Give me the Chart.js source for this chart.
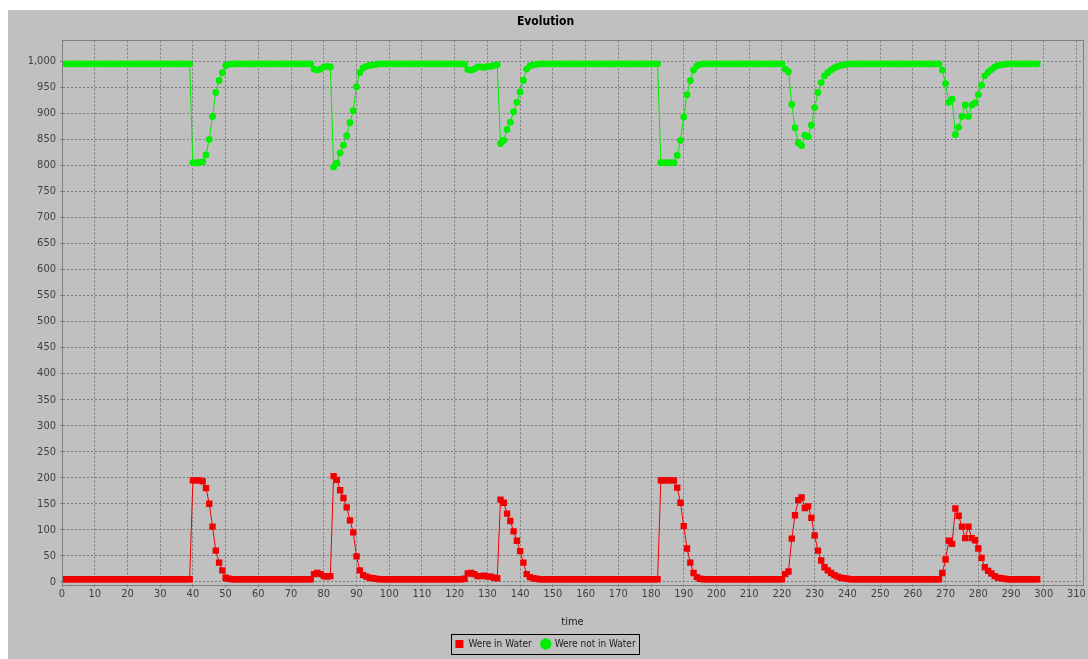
<!DOCTYPE html>
<html>
<head>
<meta charset="utf-8">
<script src="https://cdn.jsdelivr.net/npm/chart.js@4.4.1/dist/chart.umd.min.js"></script>
<style>
  html, body { margin: 0; padding: 0; background: #ffffff; }
  #panel { position: absolute; left: 8px; top: 10px; width: 1080px; height: 649px; background: #c0c0c0; }
</style>
</head>
<body>
<div id="panel"><canvas id="evolution" width="1080" height="649"></canvas></div>
<script>
"use strict";

const TITLE = "Evolution";
const X_TITLE = "time";
const SERIES_NAMES = ["Were in Water", "Were not in Water"];

// one value per time step, t = 0 .. 298
const inWater = [
  5, 5, 5, 5, 5, 5, 5, 5, 5, 5, 5, 5, 5, 5, 5, 5, 5, 5, 5, 5,
  5, 5, 5, 5, 5, 5, 5, 5, 5, 5, 5, 5, 5, 5, 5, 5, 5, 5, 5, 5,
  195, 195, 195, 193, 180, 150, 106, 60, 37, 22, 8, 6, 5, 5, 5, 5, 5, 5, 5, 5,
  5, 5, 5, 5, 5, 5, 5, 5, 5, 5, 5, 5, 5, 5, 5, 5, 5, 15, 17, 15,
  11, 10, 11, 203, 196, 176, 161, 143, 118, 95, 49, 22, 13, 10, 8, 7, 6, 5, 5, 5,
  5, 5, 5, 5, 5, 5, 5, 5, 5, 5, 5, 5, 5, 5, 5, 5, 5, 5, 5, 5,
  5, 5, 5, 6, 16, 17, 15, 11, 11, 12, 10, 10, 8, 7, 158, 152, 131, 117, 97, 79,
  59, 37, 15, 9, 7, 6, 5, 5, 5, 5, 5, 5, 5, 5, 5, 5, 5, 5, 5, 5,
  5, 5, 5, 5, 5, 5, 5, 5, 5, 5, 5, 5, 5, 5, 5, 5, 5, 5, 5, 5,
  5, 5, 5, 195, 195, 195, 195, 195, 181, 152, 107, 64, 37, 17, 9, 6, 5, 5, 5, 5,
  5, 5, 5, 5, 5, 5, 5, 5, 5, 5, 5, 5, 5, 5, 5, 5, 5, 5, 5, 5,
  5, 15, 20, 83, 128, 157, 162, 142, 145, 123, 89, 60, 41, 28, 22, 17, 13, 10, 8, 7,
  6, 5, 5, 5, 5, 5, 5, 5, 5, 5, 5, 5, 5, 5, 5, 5, 5, 5, 5, 5,
  5, 5, 5, 5, 5, 5, 5, 5, 5, 17, 43, 79, 73, 141, 127, 106, 84, 106, 84, 80,
  64, 46, 28, 21, 16, 11, 8, 7, 6, 5, 5, 5, 5, 5, 5, 5, 5, 5, 5,
];

const notInWater = [
  995, 995, 995, 995, 995, 995, 995, 995, 995, 995, 995, 995, 995, 995, 995, 995, 995, 995, 995, 995,
  995, 995, 995, 995, 995, 995, 995, 995, 995, 995, 995, 995, 995, 995, 995, 995, 995, 995, 995, 995,
  805, 805, 805, 807, 820, 850, 894, 940, 963, 978, 992, 994, 995, 995, 995, 995, 995, 995, 995, 995,
  995, 995, 995, 995, 995, 995, 995, 995, 995, 995, 995, 995, 995, 995, 995, 995, 995, 985, 983, 985,
  989, 990, 989, 797, 804, 824, 839, 857, 882, 905, 951, 978, 987, 990, 992, 993, 994, 995, 995, 995,
  995, 995, 995, 995, 995, 995, 995, 995, 995, 995, 995, 995, 995, 995, 995, 995, 995, 995, 995, 995,
  995, 995, 995, 994, 984, 983, 985, 989, 989, 988, 990, 990, 992, 993, 842, 848, 869, 883, 903, 921,
  941, 963, 985, 991, 993, 994, 995, 995, 995, 995, 995, 995, 995, 995, 995, 995, 995, 995, 995, 995,
  995, 995, 995, 995, 995, 995, 995, 995, 995, 995, 995, 995, 995, 995, 995, 995, 995, 995, 995, 995,
  995, 995, 995, 805, 805, 805, 805, 805, 819, 848, 893, 936, 963, 983, 991, 994, 995, 995, 995, 995,
  995, 995, 995, 995, 995, 995, 995, 995, 995, 995, 995, 995, 995, 995, 995, 995, 995, 995, 995, 995,
  995, 985, 980, 917, 872, 843, 838, 858, 855, 877, 911, 940, 959, 972, 978, 983, 987, 990, 992, 993,
  994, 995, 995, 995, 995, 995, 995, 995, 995, 995, 995, 995, 995, 995, 995, 995, 995, 995, 995, 995,
  995, 995, 995, 995, 995, 995, 995, 995, 995, 983, 957, 921, 927, 859, 873, 894, 916, 894, 916, 920,
  936, 954, 972, 979, 984, 989, 992, 993, 994, 995, 995, 995, 995, 995, 995, 995, 995, 995, 995,
];

const xTicks = [0, 10, 20, 30, 40, 50, 60, 70, 80, 90, 100, 110, 120, 130, 140, 150, 160,
  170, 180, 190, 200, 210, 220, 230, 240, 250, 260, 270, 280, 290, 300, 310];
const yTicks = [0, 50, 100, 150, 200, 250, 300, 350, 400, 450, 500, 550, 600, 650, 700,
  750, 800, 850, 900, 950, 1000];

const FONT = "'DejaVu Sans Condensed', 'DejaVu Sans', sans-serif";
const GRID = "#7c7c7c";

function toPoints(values) {
  return values.map((v, t) => ({ x: t, y: v }));
}

// JFreeChart style plot outline plus a framed legend
const frame = {
  id: "frame",
  afterDraw(chart) {
    const { ctx, chartArea: a, legend } = chart;
    ctx.save();
    ctx.strokeStyle = "#808080";
    ctx.lineWidth = 1;
    ctx.strokeRect(Math.round(a.left) + 0.5, Math.round(a.top) + 0.5,
      Math.round(a.right - a.left), Math.round(a.bottom - a.top));
    const boxes = legend.legendHitBoxes;
    if (boxes && boxes.length) {
      const left = Math.min(...boxes.map((b) => b.left)) - 4;
      const right = Math.max(...boxes.map((b) => b.left + b.width)) + 4;
      const top = Math.min(...boxes.map((b) => b.top)) - 5;
      const bottom = Math.max(...boxes.map((b) => b.top + b.height)) + 5;
      ctx.strokeStyle = "#000000";
      ctx.strokeRect(Math.round(left) + 0.5, Math.round(top) + 0.5,
        Math.round(right - left), Math.round(bottom - top));
    }
    ctx.restore();
  },
};

new Chart(document.getElementById("evolution"), {
  type: "line",
  data: {
    datasets: [
      {
        label: SERIES_NAMES[0],
        data: toPoints(inWater),
        borderColor: "#f00000",
        backgroundColor: "#f00000",
        borderWidth: 1,
        pointStyle: "rect",
        pointRadius: 4.5,
        pointBorderWidth: 0,
        pointBackgroundColor: "#f00000",
      },
      {
        label: SERIES_NAMES[1],
        data: toPoints(notInWater),
        borderColor: "#00ee00",
        backgroundColor: "#00ee00",
        borderWidth: 1,
        pointStyle: "circle",
        pointRadius: 3.4,
        pointBorderWidth: 0,
        pointBackgroundColor: "#00ee00",
      },
    ],
  },
  options: {
    responsive: false,
    animation: false,
    layout: { padding: { left: 0, right: 5, top: 0, bottom: 0 } },
    plugins: {
      title: {
        display: true,
        text: TITLE,
        color: "#000000",
        font: { family: FONT, size: 12, weight: "bold" },
        padding: { top: 5, bottom: 11 },
      },
      legend: {
        position: "bottom",
        labels: {
          usePointStyle: true,
          boxWidth: 8,
          boxHeight: 8,
          padding: 10,
          color: "#202020",
          font: { family: FONT, size: 10 },
        },
      },
      tooltip: { enabled: false },
    },
    scales: {
      x: {
        type: "linear",
        min: 0,
        max: 312,
        afterFit: (scale) => { scale.height = 44; },
        afterBuildTicks: (scale) => { scale.ticks = xTicks.map((v) => ({ value: v })); },
        ticks: { color: "#404040", padding: 1, maxRotation: 0, autoSkip: false,
          font: { family: FONT, size: 11 } },
        grid: { color: GRID, tickLength: 2, drawTicks: true },
        border: { color: "#808080", dash: [2, 2] },
        title: { display: true, text: X_TITLE, color: "#202020", padding: 0,
          font: { family: FONT, size: 11 } },
      },
      y: {
        type: "linear",
        min: -6,
        max: 1040,
        afterFit: (scale) => { scale.width = 54; },
        afterBuildTicks: (scale) => { scale.ticks = yTicks.map((v) => ({ value: v })); },
        ticks: { color: "#404040", padding: 4, autoSkip: false,
          callback: (v) => v.toLocaleString("en-US"),
          font: { family: FONT, size: 11 } },
        grid: { color: GRID, tickLength: 2, drawTicks: true },
        border: { color: "#808080", dash: [2, 2] },
      },
    },
  },
  plugins: [frame],
});
</script>
</body>
</html>
